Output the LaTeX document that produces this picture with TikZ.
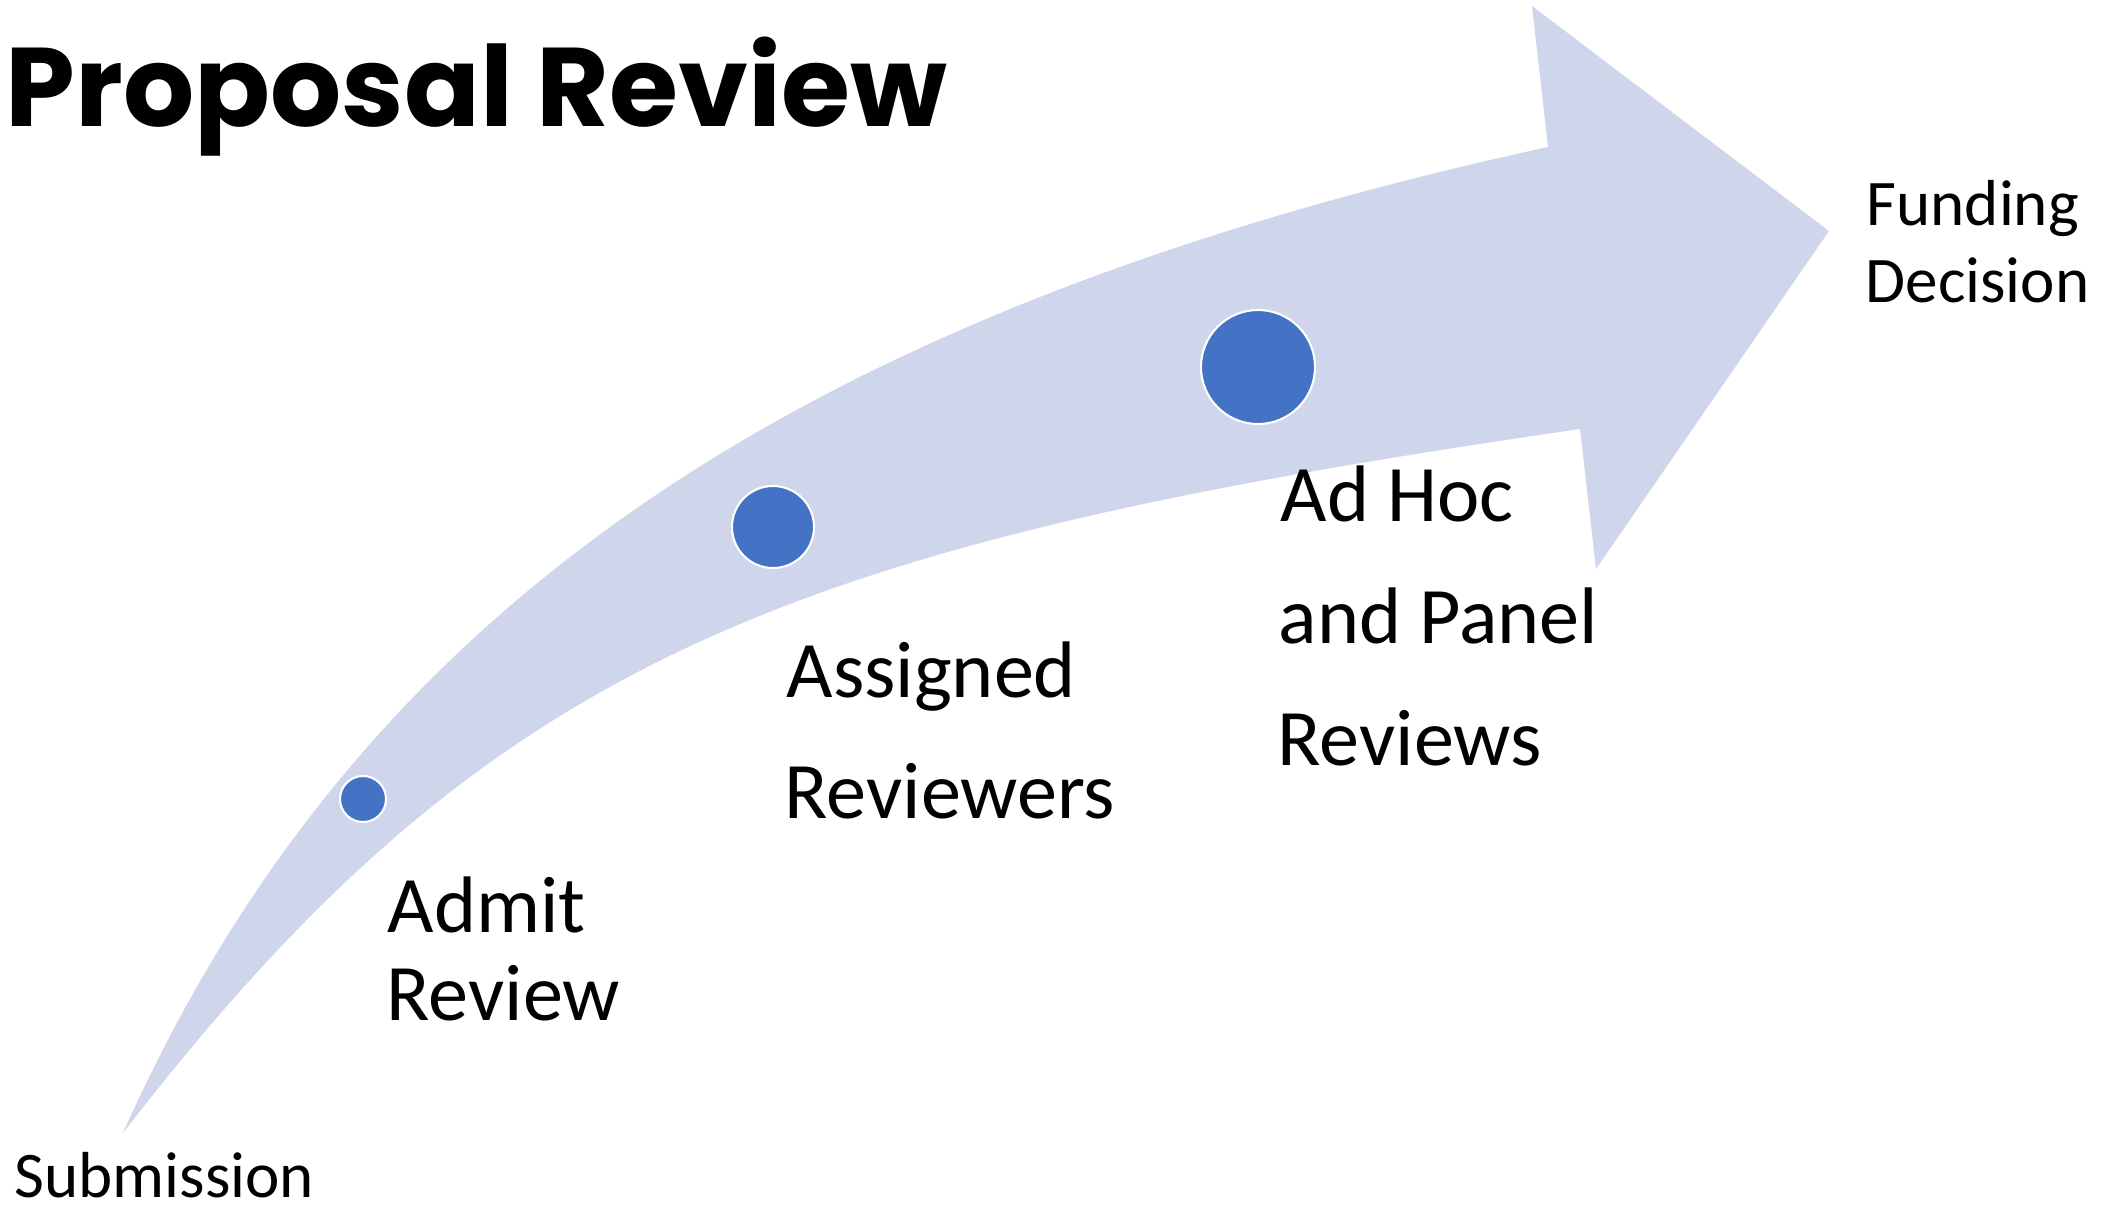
\documentclass[tikz,border=0pt]{standalone}
\usepackage{fontspec}
\setmainfont{Carlito}
\newfontfamily\titlefont{Poppins}
\usepackage{tikz}
\definecolor{bandblue}{HTML}{CFD5EA}
\definecolor{dotblue}{HTML}{4472C4}

\begin{document}
\begin{tikzpicture}[x=0.01cm,y=-0.01cm,
  dot/.style={circle,fill=dotblue,draw=white,line width=0.6pt,inner sep=0pt},
  big/.style={anchor=base west,inner sep=0pt,font=\fontsize{22.8}{27}\selectfont},
  small/.style={anchor=base west,inner sep=0pt,font=\fontsize{18.5}{22}\selectfont}]
\useasboundingbox (0,0) rectangle (2120,1208);
% the curved arrow
\fill[bandblue] (123,1133) .. controls (347,631) and (766,317) .. (1548,147)
  -- (1532,6) -- (1829,231) -- (1596,569) -- (1580,429)
  .. controls (780,545) and (489,659) .. (123,1133) -- cycle;
% stages on the arrow
\node[dot,minimum size=0.46cm] (d1) at (363,799) {};
\node[dot,minimum size=0.82cm] (d2) at (773,527) {};
\node[dot,minimum size=1.14cm] (d3) at (1258,367) {};
% title
\node[anchor=base west,inner sep=0pt,font=\titlefont\bfseries\fontsize{31.8}{38}\selectfont] (title) at (5,126) {Proposal Review};
% labels
\node[small] (sub) at (14,1197) {Submission};
\node[small] (fund) at (1866,225) {Funding};
\node[small] (dec) at (1865,302) {Decision};
\node[big] (adm) at (387,932) {Admit};
\node[big] (admrev) at (386,1020) {Review};
\node[big] (asg) at (786,697) {Assigned};
\node[big] (asgrev) at (784,818) {Reviewers};
\node[big] (adhoc) at (1280,521) {Ad Hoc};
\node[big] (panel) at (1278,643) {and Panel};
\node[big] (revs) at (1277,765) {Reviews};
\end{tikzpicture}
\end{document}
